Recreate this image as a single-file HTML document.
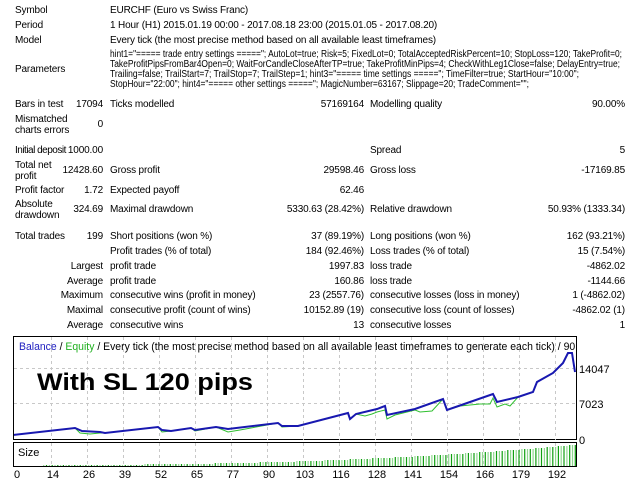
<!DOCTYPE html>
<html><head><meta charset="utf-8"><style>
body{margin:0;width:640px;height:480px;background:#fff;position:relative;overflow:hidden;font-family:"Liberation Sans",Tahoma,sans-serif;font-size:10px;color:#000}
.t{position:absolute;white-space:nowrap;line-height:11px;letter-spacing:-0.15px}
.r{text-align:right}
</style></head><body>
<div class="t" style="left:15px;top:5px">Symbol</div><div class="t" style="left:110px;top:5px">EURCHF (Euro vs Swiss Franc)</div>
<div class="t" style="left:15px;top:20px">Period</div><div class="t" style="left:110px;top:20px">1 Hour (H1) 2015.01.19 00:00 - 2017.08.18 23:00 (2015.01.05 - 2017.08.20)</div>
<div class="t" style="left:15px;top:35px">Model</div><div class="t" style="left:110px;top:35px">Every tick (the most precise method based on all available least timeframes)</div>
<div class="t" style="left:15px;top:64px">Parameters</div>

<div class="t" style="left:15px;top:99px">Bars in test</div><div class="t r" style="right:537px;top:99px">17094</div>
<div class="t" style="left:110px;top:99px">Ticks modelled</div><div class="t r" style="right:276px;top:99px">57169164</div>
<div class="t" style="left:370px;top:99px">Modelling quality</div><div class="t r" style="right:15px;top:99px">90.00%</div>

<div class="t" style="left:15px;top:114px">Mismatched<br>charts errors</div><div class="t r" style="right:537px;top:119px">0</div>

<div class="t" style="left:15px;top:145px;letter-spacing:-0.5px">Initial deposit</div><div class="t r" style="right:537px;top:145px">1000.00</div>
<div class="t" style="left:370px;top:145px">Spread</div><div class="t r" style="right:15px;top:145px">5</div>

<div class="t" style="left:15px;top:160px">Total net<br>profit</div><div class="t r" style="right:537px;top:165px">12428.60</div>
<div class="t" style="left:110px;top:165px">Gross profit</div><div class="t r" style="right:276px;top:165px">29598.46</div>
<div class="t" style="left:370px;top:165px">Gross loss</div><div class="t r" style="right:15px;top:165px">-17169.85</div>

<div class="t" style="left:15px;top:185px">Profit factor</div><div class="t r" style="right:537px;top:185px">1.72</div>
<div class="t" style="left:110px;top:185px">Expected payoff</div><div class="t r" style="right:276px;top:185px">62.46</div>

<div class="t" style="left:15px;top:199px">Absolute<br>drawdown</div><div class="t r" style="right:537px;top:204px">324.69</div>
<div class="t" style="left:110px;top:204px">Maximal drawdown</div><div class="t r" style="right:276px;top:204px">5330.63 (28.42%)</div>
<div class="t" style="left:370px;top:204px">Relative drawdown</div><div class="t r" style="right:15px;top:204px">50.93% (1333.34)</div>

<div class="t" style="left:15px;top:231px">Total trades</div><div class="t r" style="right:537px;top:231px">199</div>
<div class="t" style="left:110px;top:231px">Short positions (won %)</div><div class="t r" style="right:276px;top:231px">37 (89.19%)</div>
<div class="t" style="left:370px;top:231px">Long positions (won %)</div><div class="t r" style="right:15px;top:231px">162 (93.21%)</div>

<div class="t" style="left:110px;top:246px">Profit trades (% of total)</div><div class="t r" style="right:276px;top:246px">184 (92.46%)</div>
<div class="t" style="left:370px;top:246px">Loss trades (% of total)</div><div class="t r" style="right:15px;top:246px">15 (7.54%)</div>

<div class="t r" style="right:537px;top:261px">Largest</div><div class="t" style="left:110px;top:261px">profit trade</div><div class="t r" style="right:276px;top:261px">1997.83</div>
<div class="t" style="left:370px;top:261px">loss trade</div><div class="t r" style="right:15px;top:261px">-4862.02</div>

<div class="t r" style="right:537px;top:276px">Average</div><div class="t" style="left:110px;top:276px">profit trade</div><div class="t r" style="right:276px;top:276px">160.86</div>
<div class="t" style="left:370px;top:276px">loss trade</div><div class="t r" style="right:15px;top:276px">-1144.66</div>

<div class="t r" style="right:537px;top:290px">Maximum</div><div class="t" style="left:110px;top:290px">consecutive wins (profit in money)</div><div class="t r" style="right:276px;top:290px">23 (2557.76)</div>
<div class="t" style="left:370px;top:290px">consecutive losses (loss in money)</div><div class="t r" style="right:15px;top:290px">1 (-4862.02)</div>

<div class="t r" style="right:537px;top:305px">Maximal</div><div class="t" style="left:110px;top:305px">consecutive profit (count of wins)</div><div class="t r" style="right:276px;top:305px">10152.89 (19)</div>
<div class="t" style="left:370px;top:305px">consecutive loss (count of losses)</div><div class="t r" style="right:15px;top:305px">-4862.02 (1)</div>

<div class="t r" style="right:537px;top:320px">Average</div><div class="t" style="left:110px;top:320px">consecutive wins</div><div class="t r" style="right:276px;top:320px">13</div>
<div class="t" style="left:370px;top:320px">consecutive losses</div><div class="t r" style="right:15px;top:320px">1</div>

<svg id="ch" width="640" height="480" style="position:absolute;left:0;top:0" xmlns="http://www.w3.org/2000/svg">
<g font-family="Liberation Sans, sans-serif" font-size="10" lengthAdjust="spacingAndGlyphs">
<text x="110" y="57" textLength="512" lengthAdjust="spacingAndGlyphs">hint1="===== trade entry settings ====="; AutoLot=true; Risk=5; FixedLot=0; TotalAcceptedRiskPercent=10; StopLoss=120; TakeProfit=0;</text>
<text x="110" y="67" textLength="510" lengthAdjust="spacingAndGlyphs">TakeProfitPipsFromBar4Open=0; WaitForCandleCloseAfterTP=true; TakeProfitMinPips=4; CheckWithLeg1Close=false; DelayEntry=true;</text>
<text x="110" y="77" textLength="469" lengthAdjust="spacingAndGlyphs">Trailing=false; TrailStart=7; TrailStop=7; TrailStep=1; hint3="===== time settings ====="; TimeFilter=true; StartHour="10:00";</text>
<text x="110" y="87" textLength="419" lengthAdjust="spacingAndGlyphs">StopHour="22:00"; hint4="===== other settings ====="; MagicNumber=63167; Slippage=20; TradeComment="";</text>
</g>
<defs><clipPath id="cp"><rect x="14" y="336" width="562" height="104"/></clipPath></defs>
<rect x="13.5" y="336.5" width="563" height="103" fill="#fff" stroke="#000"/>
<rect x="13.5" y="442.5" width="563" height="24" fill="#fff" stroke="#000"/>
<g id="grid" stroke="#c8c8c8" stroke-dasharray="3,3" stroke-width="1"></g>
<line x1="14" y1="368.5" x2="576" y2="368.5" stroke="#c8c8c8" stroke-dasharray="3,3"/>
<line x1="14" y1="403.5" x2="576" y2="403.5" stroke="#c8c8c8" stroke-dasharray="3,3"/>
<g id="bars"></g>
<g clip-path="url(#cp)">
<text x="19" y="350" font-family="Liberation Sans, sans-serif" font-size="11" textLength="580" lengthAdjust="spacingAndGlyphs"><tspan fill="#2020c0">Balance</tspan> / <tspan fill="#20b020">Equity</tspan> / Every tick (the most precise method based on all available least timeframes to generate each tick) / 90.00%</text>
<polyline fill="none" stroke="#30c030" stroke-width="1" points="13,435 75,428 80,433 90,434 100,433 105,433 158,427 162,432 171,431 191,428 195,431 216,427 228,432 240,430 278,423 282,427 298,426 348,413 350,419 356,414 365,416 372,414 377,412 385,410 387,419 395,415 415,410 420,412 432,411 443,399 447,410 460,406 470,405 480,404 490,404 493,398 497,407 505,404 510,406 518,397 533,392 537,382 553,373 563,363 568,353 572,353 575,372"/>
<polyline fill="none" stroke="#1818b0" stroke-width="2" points="13,435 75,428 82,431 100,432 105,433 158,427 162,430 171,431 191,428 195,430 216,427 228,429 278,423 282,426 298,426 348,413 350,419 356,414 377,409 385,406 387,415 415,409 443,399 447,410 470,402 493,394 497,402 518,397 533,392 537,382 553,373 563,363 568,353 572,353 575,372"/>
</g>
<text x="37" y="390" font-family="Liberation Sans, sans-serif" font-size="24" font-weight="bold" textLength="216" lengthAdjust="spacingAndGlyphs">With SL 120 pips</text>
<text x="18" y="456" font-family="Liberation Sans, sans-serif" font-size="11">Size</text>
<g font-family="Liberation Sans, sans-serif" font-size="11">
<text x="579" y="373">14047</text><text x="579" y="408">7023</text><text x="579" y="444">0</text>
</g>
<g id="xl" font-family="Liberation Sans, sans-serif" font-size="11" text-anchor="middle"></g>
</svg>
<script>
var ns="http://www.w3.org/2000/svg";
var labs=[0,14,26,39,52,65,77,90,103,116,128,141,154,166,179,192];
var g=document.getElementById('grid'),xl=document.getElementById('xl');
labs.forEach(function(v,k){var x=15+36*k;
 if(k>0){var l=document.createElementNS(ns,'line');l.setAttribute('x1',x+.5);l.setAttribute('x2',x+.5);l.setAttribute('y1',337);l.setAttribute('y2',440);g.appendChild(l);
 var l2=document.createElementNS(ns,'line');l2.setAttribute('x1',x+.5);l2.setAttribute('x2',x+.5);l2.setAttribute('y1',443);l2.setAttribute('y2',466);g.appendChild(l2);}
 var t=document.createElementNS(ns,'text');t.setAttribute('x',x+2);t.setAttribute('y',478);t.textContent=v;xl.appendChild(t);});
var b=document.getElementById('bars');
for(var i=10;i<200;i++){var x=15+i*(540/192);var f=i/199;var h=Math.max(1,Math.round(1+20*Math.pow(f,2.5)));
 var r=document.createElementNS(ns,'rect');r.setAttribute('x',x.toFixed(1));r.setAttribute('width',1.2);r.setAttribute('y',466-h);r.setAttribute('height',h);
 r.setAttribute('fill',i%2?'#10a010':'#90d890');b.appendChild(r);}
</script>
</body></html>
